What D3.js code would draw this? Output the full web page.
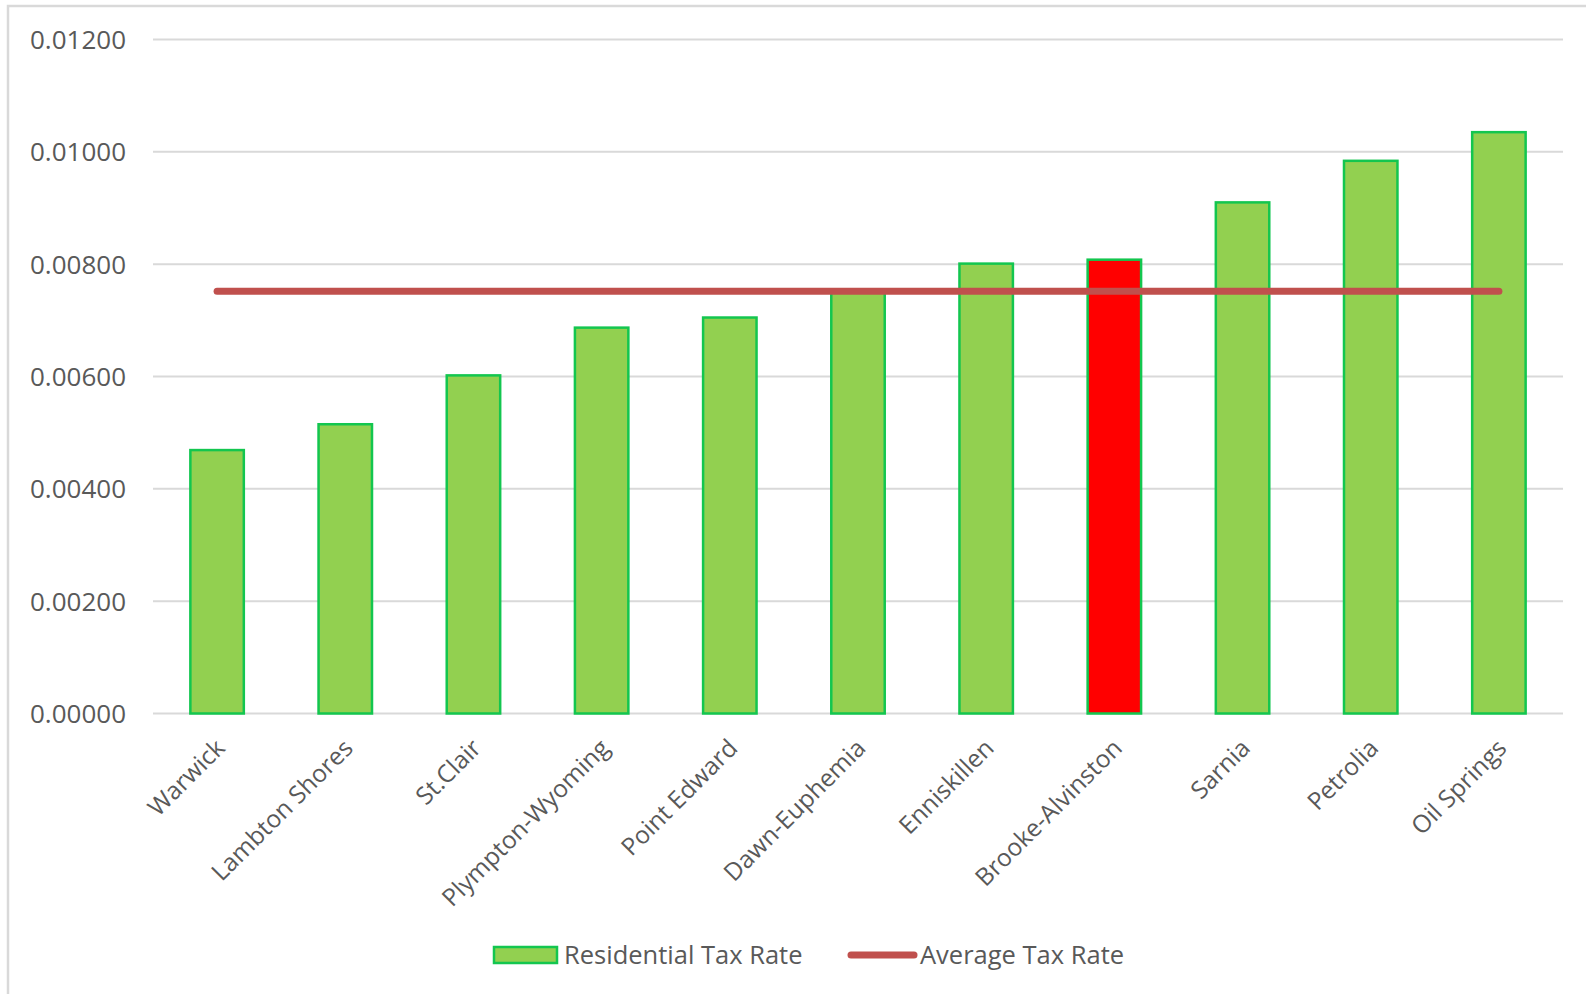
<!DOCTYPE html>
<html lang="en">
<head>
    <meta charset="UTF-8">
    <title>Residential Tax Rate</title>
    <style>
        body {
            margin: 0;
            background: #fff;
        }
        svg text {
            font-family: 'Open Sans', sans-serif;
            fill: #595959;
        }
    </style>
</head>
<body>
    <svg id="chart"></svg>

    <script src="https://d3js.org/d3.v7.min.js"></script>
    <script>
        // datos
        const municipios = ["Warwick", "Lambton Shores", "St.Clair", "Plympton-Wyoming", "Point Edward",
            "Dawn-Euphemia", "Enniskillen", "Brooke-Alvinston", "Sarnia", "Petrolia", "Oil Springs"];
        const tasaResidencial = [0.00469, 0.00515, 0.00602, 0.00687, 0.00705,
            0.00754, 0.00801, 0.00808, 0.00910, 0.00984, 0.01035];
        const tasaPromedio = 0.00752;
        const resaltado = "Brooke-Alvinston";
        const ticksY = [0, 0.002, 0.004, 0.006, 0.008, 0.010, 0.012];

        const width = 1586, height = 994;
        const margin = { top: 39.5, right: 23, bottom: 280.5, left: 153 };

        const svg = d3.select("#chart")
            .attr("width", width)
            .attr("height", height);

        // marco del area del grafico (solo se ven borde superior e izquierdo)
        svg.append("rect")
            .attr("x", 8).attr("y", 6)
            .attr("width", width).attr("height", height)
            .attr("fill", "none")
            .attr("stroke", "#d9d9d9")
            .attr("stroke-width", 2.5);

        const x = d3.scaleBand()
            .domain(municipios)
            .range([margin.left, width - margin.right])
            .paddingInner(0.583)
            .paddingOuter(0.2915);

        const y = d3.scaleLinear()
            .domain([0, 0.012])
            .range([height - margin.bottom, margin.top]);

        // lineas de la cuadricula
        svg.append("g")
            .selectAll("line")
            .data(ticksY)
            .join("line")
            .attr("x1", margin.left)
            .attr("x2", width - margin.right)
            .attr("y1", d => y(d))
            .attr("y2", d => y(d))
            .attr("stroke", "#d9d9d9")
            .attr("stroke-width", 2);

        // etiquetas eje Y
        svg.append("g")
            .selectAll("text")
            .data(ticksY)
            .join("text")
            .attr("x", 126)
            .attr("y", d => y(d))
            .attr("dy", "0.36em")
            .attr("text-anchor", "end")
            .attr("font-size", 26)
            .text(d => d3.format(".5f")(d));

        // barras
        svg.append("g")
            .selectAll("rect")
            .data(municipios)
            .join("rect")
            .attr("x", d => x(d))
            .attr("y", (d, i) => y(tasaResidencial[i]))
            .attr("width", x.bandwidth())
            .attr("height", (d, i) => y(0) - y(tasaResidencial[i]))
            .attr("fill", d => d === resaltado ? "#ff0000" : "#92d050")
            .attr("stroke", "#13c64f")
            .attr("stroke-width", 2.5);

        // linea del promedio
        const linea = d3.line()
            .x(d => x(d) + x.bandwidth() / 2)
            .y(() => y(tasaPromedio));

        svg.append("path")
            .datum(municipios)
            .attr("d", linea)
            .attr("fill", "none")
            .attr("stroke", "#c0504d")
            .attr("stroke-width", 7)
            .attr("stroke-linecap", "round");

        // etiquetas eje X rotadas
        svg.append("g")
            .selectAll("text")
            .data(municipios)
            .join("text")
            .attr("transform", d => `translate(${x(d) + x.bandwidth() / 2 - 4}, ${y(0) + 23}) rotate(-45)`)
            .attr("text-anchor", "end")
            .attr("dy", "0.76em")
            .attr("font-size", 24.5)
            .text(d => d);

        // leyenda
        const leyenda = svg.append("g");
        leyenda.append("rect")
            .attr("x", 494).attr("y", 947)
            .attr("width", 63).attr("height", 16)
            .attr("fill", "#92d050")
            .attr("stroke", "#13c64f")
            .attr("stroke-width", 2.5);
        leyenda.append("text")
            .attr("x", 564).attr("y", 955)
            .attr("dy", "0.36em")
            .attr("font-size", 25.5)
            .text("Residential Tax Rate");
        leyenda.append("line")
            .attr("x1", 851).attr("x2", 914)
            .attr("y1", 955).attr("y2", 955)
            .attr("stroke", "#c0504d")
            .attr("stroke-width", 7)
            .attr("stroke-linecap", "round");
        leyenda.append("text")
            .attr("x", 920).attr("y", 955)
            .attr("dy", "0.36em")
            .attr("font-size", 25.5)
            .text("Average Tax Rate");
    </script>
</body>
</html>
